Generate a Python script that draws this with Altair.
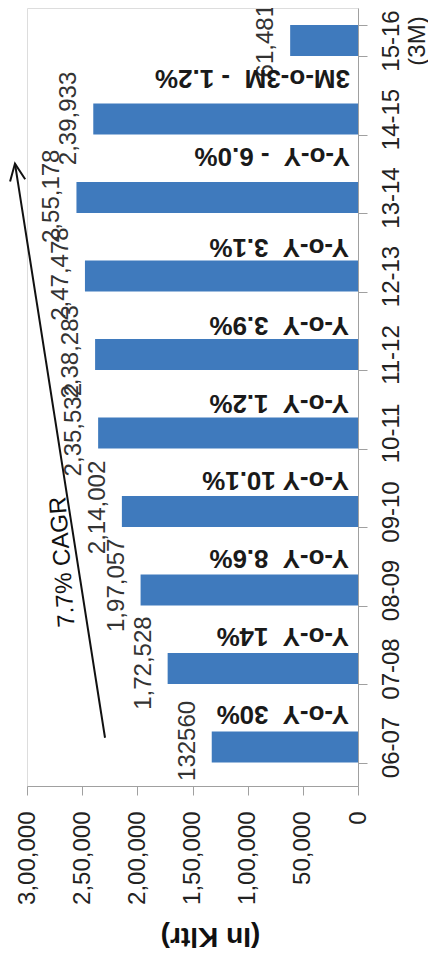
import altair as alt
import pandas as pd

# ---------------- data ----------------
categories = ["06-07", "07-08", "08-09", "09-10", "10-11",
              "11-12", "12-13", "13-14", "14-15", "15-16 (3M)"]
volumes = [132560, 172528, 197057, 214002, 235532,
           238283, 247478, 255178, 239933, 61481]
volume_labels = ["132560", "1,72,528", "1,97,057", "2,14,002", "2,35,532",
                 "2,38,283", "2,47,478", "2,55,178", "2,39,933", "61,481"]
NB = "\u00a0"
growth_labels = [f"Y-o-Y {NB}30%", f"Y-o-Y {NB}14%", f"Y-o-Y {NB}8.6%", "Y-o-Y 10.1%",
                 f"Y-o-Y {NB}1.2%", f"Y-o-Y {NB}3.9%", f"Y-o-Y {NB}3.1%",
                 f"Y-o-Y {NB}- 6.0%", f"3M-o-3M {NB}- 1.2%", ""]
value_ticks = [0, 50000, 100000, 150000, 200000, 250000, 300000]
value_tick_labels = ["0", "50,000", "1,00,000", "1,50,000", "2,00,000", "2,50,000", "3,00,000"]
axis_title = "(In Kltr)"
cagr_label = "7.7%  CAGR"
# CAGR arrow, in data units (value, category index from bottom)
arrow_values = [229300, 310900]
arrow_index = [0.62, 8.0]
cagr_text_value = [267400]
cagr_text_index = [2.88]

FONT = "Liberation Sans"
BAR = "#3F7ABD"
GRID = "#A0A0A0"

df = pd.DataFrame({
    "year": categories,
    "volume": volumes,
    "vol_label": volume_labels,
    "growth": growth_labels,
    "idx": list(range(len(categories))),
})
arrow_df = pd.DataFrame({"v1": [arrow_values[0]], "v2": [arrow_values[1]],
                         "p1": [arrow_index[0]], "p2": [arrow_index[1]]})
head_df = pd.DataFrame({"v": [arrow_values[1]], "p": [arrow_index[1]]})
cagr_df = pd.DataFrame({"v": cagr_text_value, "p": cagr_text_index, "t": [cagr_label]})

order = list(reversed(categories))
x_scale = alt.Scale(domain=[0, 300000], reverse=True, nice=False)
y_scale = alt.Scale(domain=order, paddingInner=0.605, paddingOuter=0.258, align=0.42)
q_scale = alt.Scale(domain=[0, 10], nice=False, zero=False)

label_expr = ""
for v, t in zip(value_ticks, value_tick_labels):
    label_expr += f"datum.value == {v} ? '{t}' : "
label_expr += "''"

base = alt.Chart(df)

bars = base.mark_bar(color=BAR).encode(
    x=alt.X("volume:Q", scale=x_scale,
            axis=alt.Axis(values=value_ticks, labelExpr=label_expr, grid=False,
                          labelAngle=270, labelAlign="right", labelBaseline="middle",
                          labelFlush=False, labelOverlap=False,
                          labelFontSize=24, labelFont=FONT, labelColor="#222",
                          labelPadding=16, tickSize=9, tickColor=GRID, domainColor=GRID,
                          title=axis_title, titleAngle=180, titleFontSize=28,
                          titleFontWeight="bold", titleFont=FONT, titleColor="#111",
                          titleAlign="center", titleBaseline="middle",
                          titleX=183, titleY=149)),
    y=alt.Y("year:N", scale=y_scale,
            axis=alt.Axis(orient="right", title=None, labelAngle=270,
                          labelAlign="center", labelBaseline="top",
                          labelExpr="split(datum.label, ' ')",
                          labelOverlap=False, labelFontSize=24, labelFont=FONT,
                          labelColor="#222", labelLineHeight=26, labelPadding=12,
                          tickBand="extent", tickSize=9, tickColor=GRID,
                          domainColor=GRID)),
)

vol_text = base.mark_text(angle=270, align="center", baseline="alphabetic", dy=-17,
                          fontSize=24, font=FONT, color="#333").encode(
    x=alt.X("volume:Q", scale=x_scale),
    y=alt.Y("year:N", scale=y_scale, axis=None),
    text="vol_label:N",
)

growth_a = base.transform_filter("datum.idx < 7").mark_text(
    angle=180, align="left", baseline="top", dx=9, dy=14,
    fontSize=26, fontWeight="bold", font=FONT, color="#1a1a1a").encode(
    x=alt.datum(0, type="quantitative", scale=x_scale),
    y=alt.Y("year:N", scale=y_scale, axis=None),
    text="growth:N",
)

growth_b = base.transform_filter("datum.idx >= 7 && datum.growth != ''").mark_text(
    angle=180, align="left", baseline="top", dx=8, dy=27,
    fontSize=26, fontWeight="bold", font=FONT, color="#1a1a1a").encode(
    x=alt.datum(0, type="quantitative", scale=x_scale),
    y=alt.Y("year:N", scale=y_scale, axis=None),
    text="growth:N",
)

arrow_line = alt.Chart(arrow_df).mark_rule(strokeWidth=2, color="#111").encode(
    x=alt.X("v1:Q", scale=x_scale), x2="v2:Q",
    y=alt.Y("p1:Q", scale=q_scale, axis=None), y2="p2:Q",
)

arrow_head = alt.Chart(head_df).mark_point(
    shape="M -0.45 1 L 0 0 L 0.45 1", filled=False, size=1156, angle=351,
    strokeWidth=2, color="#111", opacity=1).encode(
    x=alt.X("v:Q", scale=x_scale),
    y=alt.Y("p:Q", scale=q_scale, axis=None),
)

cagr_text = alt.Chart(cagr_df).mark_text(
    angle=266, align="center", baseline="middle", fontSize=24, font=FONT,
    color="#111").encode(
    x=alt.X("v:Q", scale=x_scale),
    y=alt.Y("p:Q", scale=q_scale, axis=None),
    text="t:N",
)

chart = alt.layer(
    bars, vol_text, growth_a, growth_b, arrow_line, arrow_head, cagr_text
).resolve_scale(y="independent").properties(
    width=331, height=778,
    autosize=alt.AutoSizeParams(type="none"),
    padding={"left": 19, "top": 0, "right": 70, "bottom": 168},
).configure_view(stroke=None).configure(background="white")

chart.save("out.html", embed_options={"renderer": "svg", "actions": False})
